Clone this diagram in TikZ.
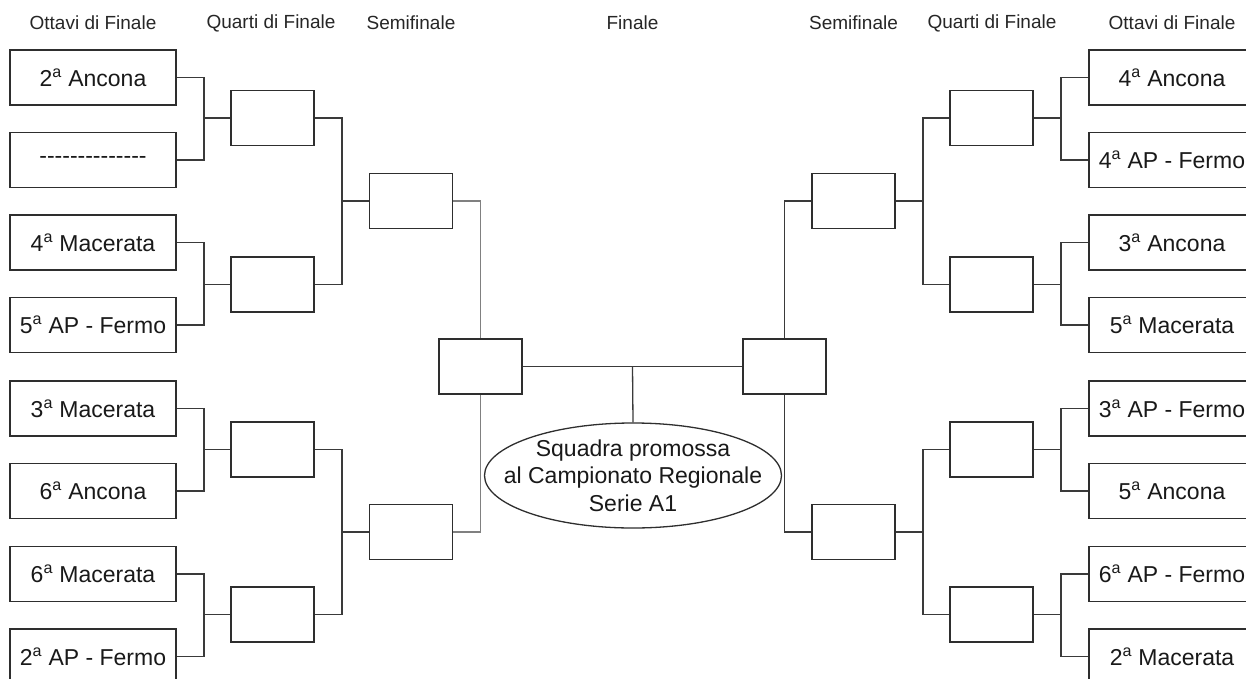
\documentclass[tikz,border=0pt]{standalone}
\usepackage{fontspec}
\setmainfont{Liberation Sans}
\usetikzlibrary{shapes.geometric,backgrounds,calc}
\definecolor{boxline}{HTML}{2E2E2E}
\definecolor{conn}{HTML}{3A3A3A}
\newcommand\ordA[1]{#1\textsuperscript{a}}
\begin{document}
\begin{tikzpicture}[x=1pt,y=-1pt,
  team/.style={draw=boxline, line width=1.6pt, fill=white, minimum width=166pt, minimum height=55pt, inner sep=0pt, font=\fontsize{23}{27}\selectfont, text=black!90},
  slot/.style={draw=boxline, line width=1.6pt, fill=white, minimum width=83pt, minimum height=55pt, inner sep=0pt},
  head/.style={font=\fontsize{19}{22}\selectfont, text=black!85},
  link/.style={draw=conn, line width=1.3pt},
  faint/.style={draw=black!50, line width=1.1pt}]
\useasboundingbox (0,0) rectangle (1246,679);
\clip (0,0) rectangle (1246,679);

% headings
\node[head] (h1) at (93,23) {Ottavi di Finale};
\node[head] (h2) at (271,23) {Quarti di Finale};
\node[head] (h3) at (411,23) {Semifinale};
\node[head] (h4) at (632.5,23) {Finale};
\node[head] (h5) at (853.5,23) {Semifinale};
\node[head] (h6) at (992,23) {Quarti di Finale};
\node[head] (h7) at (1172,23) {Ottavi di Finale};

% left teams
\node[team] (L1) at (93,77.5) {\ordA{2} Ancona};
\node[team] (L2) at (93,160) {-{}-{}-{}-{}-{}-{}-{}-{}-{}-{}-{}-{}-{}-};
\node[team] (L3) at (93,242.5) {\ordA{4} Macerata};
\node[team] (L4) at (93,325) {\ordA{5} AP - Fermo};
\node[team] (L5) at (93,408.5) {\ordA{3} Macerata};
\node[team] (L6) at (93,491) {\ordA{6} Ancona};
\node[team] (L7) at (93,574) {\ordA{6} Macerata};
\node[team] (L8) at (93,656.5) {\ordA{2} AP - Fermo};

% right teams
\node[team] (R1) at (1172,77.5) {\ordA{4} Ancona};
\node[team] (R2) at (1172,160) {\ordA{4} AP - Fermo};
\node[team] (R3) at (1172,242.5) {\ordA{3} Ancona};
\node[team] (R4) at (1172,325) {\ordA{5} Macerata};
\node[team] (R5) at (1172,408.5) {\ordA{3} AP - Fermo};
\node[team] (R6) at (1172,491) {\ordA{5} Ancona};
\node[team] (R7) at (1172,574) {\ordA{6} AP - Fermo};
\node[team] (R8) at (1172,656.5) {\ordA{2} Macerata};

% quarter finals
\node[slot] (LQ1) at (272.5,118) {};
\node[slot] (LQ2) at (272.5,284.5) {};
\node[slot] (LQ3) at (272.5,449.5) {};
\node[slot] (LQ4) at (272.5,614.5) {};
\node[slot] (RQ1) at (991.5,118) {};
\node[slot] (RQ2) at (991.5,284.5) {};
\node[slot] (RQ3) at (991.5,449.5) {};
\node[slot] (RQ4) at (991.5,614.5) {};

% semifinals
\node[slot] (LS1) at (411,201) {};
\node[slot] (LS2) at (411,532) {};
\node[slot] (RS1) at (853.5,201) {};
\node[slot] (RS2) at (853.5,532) {};

% finals
\node[slot] (LF) at (480.5,366.5) {};
\node[slot] (RF) at (784.5,366.5) {};

% winner
\node[ellipse, draw=boxline, line width=1.3pt, fill=white, minimum width=297pt, minimum height=105pt, inner xsep=-40pt, inner ysep=-30pt, align=center, font=\fontsize{23}{27.5}\selectfont, text=black!90] (W) at (633,475.5) {Squadra promossa\\al Campionato Regionale\\Serie A1};

% junctions
\coordinate (jl1) at (204,118);
\coordinate (jl2) at (204,284.5);
\coordinate (jl3) at (204,449.5);
\coordinate (jl4) at (204,614.5);
\coordinate (jr1) at (1061,118);
\coordinate (jr2) at (1061,284.5);
\coordinate (jr3) at (1061,449.5);
\coordinate (jr4) at (1061,614.5);
\coordinate (jml1) at (342,201);
\coordinate (jml2) at (342,532);
\coordinate (jmr1) at (923,201);
\coordinate (jmr2) at (923,532);
\coordinate (fm) at (632.5,366.5);

\begin{pgfonlayer}{background}
% left round of 16
\draw[link] (L1.east) -| (jl1); \draw[link] (L2.east) -| (jl1) -- (LQ1.west);
\draw[link] (L3.east) -| (jl2); \draw[link] (L4.east) -| (jl2) -- (LQ2.west);
\draw[link] (L5.east) -| (jl3); \draw[link] (L6.east) -| (jl3) -- (LQ3.west);
\draw[link] (L7.east) -| (jl4); \draw[link] (L8.east) -| (jl4) -- (LQ4.west);
% right round of 16
\draw[link] (R1.west) -| (jr1); \draw[link] (R2.west) -| (jr1) -- (RQ1.east);
\draw[link] (R3.west) -| (jr2); \draw[link] (R4.west) -| (jr2) -- (RQ2.east);
\draw[link] (R5.west) -| (jr3); \draw[link] (R6.west) -| (jr3) -- (RQ3.east);
\draw[link] (R7.west) -| (jr4); \draw[link] (R8.west) -| (jr4) -- (RQ4.east);
% quarters
\draw[link] (LQ1.east) -| (jml1); \draw[link] (LQ2.east) -| (jml1) -- (LS1.west);
\draw[link] (LQ3.east) -| (jml2); \draw[link] (LQ4.east) -| (jml2) -- (LS2.west);
\draw[link] (RQ1.west) -| (jmr1); \draw[link] (RQ2.west) -| (jmr1) -- (RS1.east);
\draw[link] (RQ3.west) -| (jmr2); \draw[link] (RQ4.west) -| (jmr2) -- (RS2.east);
% semis
\draw[faint] (LS1.east) -| (LF.center);
\draw[faint] (LS2.east) -| (LF.center);
\draw[link] (RS1.west) -| (RF.center);
\draw[link] (RS2.west) -| (RF.center);
% final
\draw[link] (LF.east) -- (RF.west);
\draw[link] (fm) -- (W.north);
\end{pgfonlayer}
\end{tikzpicture}
\end{document}
